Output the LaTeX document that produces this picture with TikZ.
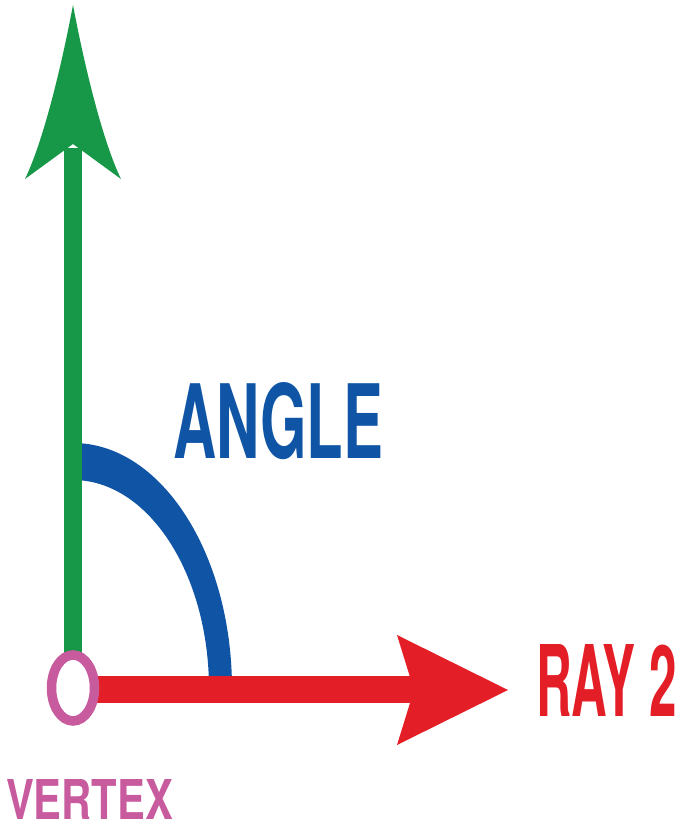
\documentclass[tikz,border=0pt]{standalone}
\usepackage{fontspec}
\setmainfont{TeX Gyre Heros}
\usepackage{graphicx}
\usetikzlibrary{shapes.geometric}
\definecolor{raygreen}{HTML}{169848}
\definecolor{rayred}{HTML}{E31E26}
\definecolor{angleblue}{HTML}{1055A5}
\definecolor{vertexpink}{HTML}{C85A9E}
\tikzset{
  lbl/.style={anchor=base west, inner sep=0pt, outer sep=0pt, font=\bfseries},
}
\begin{document}
\begin{tikzpicture}[x=1pt,y=1pt]
\useasboundingbox (0,0) rectangle (684,834);
% vertex coordinate
\coordinate (V) at (73,145);
% angle arc (filled band between two ellipses)
\fill[angleblue] (73,391) arc[start angle=90,end angle=0,x radius=159,y radius=246]
  -- (209,145) arc[start angle=0,end angle=90,x radius=136,y radius=209] -- cycle;
% ray 1 (green, up)
\coordinate (G1) at (73,684);
\fill[raygreen] (64,146) rectangle (82,686);
\fill[raygreen] (73,829) .. controls (86,760) and (104,690) .. (121,655)
  -- (73,690) -- (25,655) .. controls (42,690) and (60,760) .. (73,829) -- cycle;
% ray 2 (red, right)
\fill[rayred] (73,131) rectangle (416,158);
\fill[rayred] (508,144) -- (397,199) -- (414,144) -- (397,89) -- cycle;
% vertex
\node[draw=vertexpink, line width=9.5pt, fill=white, ellipse, inner sep=0pt,
  minimum width=43pt, minimum height=66pt] (vtx) at (73,146) {};
% labels
\node[lbl, text=angleblue] (angle) at (173,375) {\resizebox{210pt}{76pt}{ANGLE}};
\node[lbl, text=rayred] (ray2) at (536,117) {\resizebox{141pt}{72pt}{RAY 2}};
\node[lbl, text=vertexpink] (vertex) at (6,14) {\resizebox{167pt}{40pt}{VERTEX}};
\end{tikzpicture}
\end{document}
